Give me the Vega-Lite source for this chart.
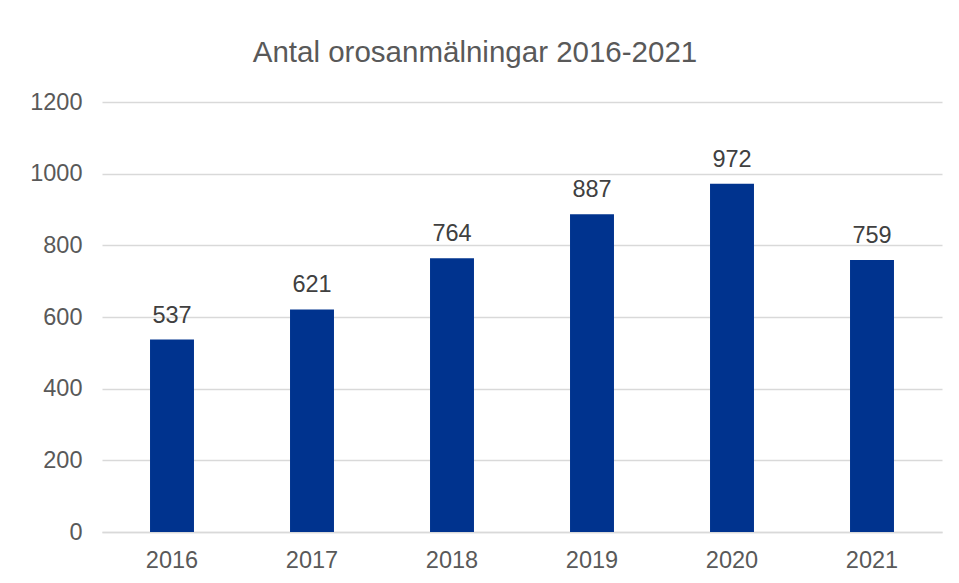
{
  "$schema": "https://vega.github.io/schema/vega-lite/v6.json",
  "autosize": {"type": "none"},
  "width": 840,
  "height": 430,
  "padding": {"left": 102, "top": 102, "right": 17, "bottom": 51},
  "background": "white",
  "title": {
    "text": "Antal orosanmälningar 2016-2021",
    "font": "Liberation Sans",
    "fontSize": 29.5,
    "fontWeight": "normal",
    "color": "#595959",
    "anchor": "middle",
    "frame": "group",
    "dx": -47,
    "offset": 22
  },
  "data": {
    "values": [
      {"year": "2016", "count": 537},
      {"year": "2017", "count": 621},
      {"year": "2018", "count": 764},
      {"year": "2019", "count": 887},
      {"year": "2020", "count": 972},
      {"year": "2021", "count": 759}
    ]
  },
  "encoding": {
    "x": {
      "field": "year",
      "type": "nominal",
      "scale": {"paddingInner": 0.686, "paddingOuter": 0.343},
      "axis": {
        "title": null,
        "labelAngle": 0,
        "labelFont": "Liberation Sans",
        "labelFontSize": 23.5,
        "labelColor": "#595959",
        "labelPadding": 16,
        "ticks": false,
        "domain": true,
        "domainColor": "#d9d9d9",
        "domainWidth": 1.5,
        "grid": false
      }
    },
    "y": {
      "field": "count",
      "type": "quantitative",
      "scale": {"domain": [0, 1200], "nice": false},
      "axis": {
        "title": null,
        "format": "d",
        "values": [0, 200, 400, 600, 800, 1000, 1200],
        "labelFont": "Liberation Sans",
        "labelFontSize": 23.5,
        "labelColor": "#595959",
        "labelPadding": 20,
        "ticks": false,
        "domain": false,
        "grid": true,
        "gridColor": "#d9d9d9",
        "gridWidth": 1.5
      }
    }
  },
  "layer": [
    {"mark": {"type": "bar", "color": "#00338e"}},
    {
      "mark": {
        "type": "text",
        "baseline": "alphabetic",
        "dy": -17,
        "font": "Liberation Sans",
        "fontSize": 23.5,
        "color": "#404040"
      },
      "encoding": {"text": {"field": "count", "type": "quantitative"}}
    }
  ],
  "config": {"view": {"stroke": null}}
}
